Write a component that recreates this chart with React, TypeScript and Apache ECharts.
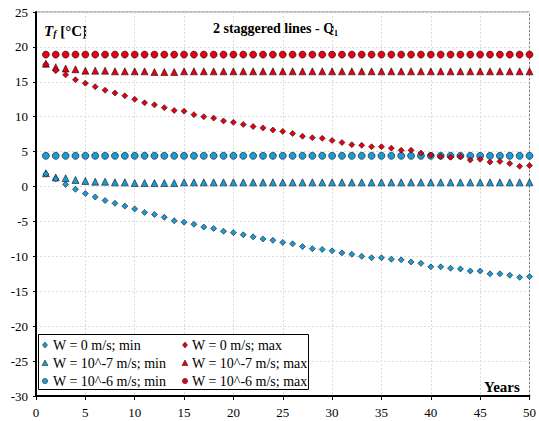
import React, { useEffect, useRef } from "react";
import * as echarts from "echarts";

const years = Array.from({ length: 50 }, (_, i) => i + 1);

const w0Min = [1.8, 1.1, 0.3, -0.4, -1.0, -1.5, -2.0, -2.4, -2.8, -3.2, -3.7, -4.0, -4.4, -4.9, -5.1, -5.4, -5.8, -6.0, -6.4, -6.6, -6.9, -7.2, -7.5, -7.7, -8.0, -8.2, -8.6, -8.9, -9.0, -9.2, -9.5, -9.7, -10.0, -10.2, -10.2, -10.4, -10.5, -10.8, -11.0, -11.5, -11.5, -11.7, -11.8, -12.1, -12.1, -12.5, -12.5, -12.7, -13.0, -12.9];
const w0Max = [17.5, 16.6, 16.0, 15.3, 14.8, 14.3, 13.8, 13.4, 13.0, 12.5, 12.0, 11.7, 11.3, 10.9, 10.8, 10.3, 10.0, 9.8, 9.4, 9.2, 8.9, 8.6, 8.4, 8.1, 7.9, 7.6, 7.2, 7.0, 6.9, 6.6, 6.3, 6.0, 5.9, 5.7, 5.7, 5.5, 5.2, 5.2, 4.8, 4.5, 4.3, 4.2, 4.3, 3.8, 3.9, 3.5, 3.6, 3.3, 2.9, 3.0];
const w7Min = [1.9, 1.3, 1.2, 0.95, 0.8, 0.7, 0.7, 0.6, 0.6, 0.5, 0.5, 0.5, 0.5, 0.5, 0.6, 0.6, 0.6, 0.6, 0.6, 0.6, 0.6, 0.6, 0.6, 0.6, 0.6, 0.6, 0.6, 0.6, 0.6, 0.6, 0.6, 0.6, 0.6, 0.6, 0.6, 0.6, 0.6, 0.6, 0.6, 0.6, 0.6, 0.6, 0.6, 0.6, 0.6, 0.6, 0.6, 0.6, 0.6, 0.6];
const w7Max = [17.6, 17.1, 16.9, 16.8, 16.6, 16.6, 16.6, 16.5, 16.5, 16.5, 16.5, 16.4, 16.4, 16.4, 16.5, 16.5, 16.5, 16.5, 16.5, 16.5, 16.5, 16.5, 16.5, 16.5, 16.5, 16.5, 16.5, 16.5, 16.5, 16.5, 16.5, 16.5, 16.5, 16.5, 16.5, 16.5, 16.5, 16.5, 16.5, 16.5, 16.5, 16.5, 16.5, 16.5, 16.5, 16.5, 16.5, 16.5, 16.5, 16.5];
const w6Min = [4.4, 4.4, 4.4, 4.4, 4.4, 4.4, 4.4, 4.4, 4.4, 4.4, 4.4, 4.4, 4.4, 4.4, 4.4, 4.4, 4.4, 4.4, 4.4, 4.4, 4.4, 4.4, 4.4, 4.4, 4.4, 4.4, 4.4, 4.4, 4.4, 4.4, 4.4, 4.4, 4.4, 4.4, 4.4, 4.4, 4.4, 4.4, 4.4, 4.4, 4.4, 4.4, 4.4, 4.4, 4.4, 4.4, 4.4, 4.4, 4.4, 4.4];
const w6Max = [18.9, 18.9, 18.9, 18.9, 18.9, 18.9, 18.9, 18.9, 18.9, 18.9, 18.9, 18.9, 18.9, 18.9, 18.9, 18.9, 18.9, 18.9, 18.9, 18.9, 18.9, 18.9, 18.9, 18.9, 18.9, 18.9, 18.9, 18.9, 18.9, 18.9, 18.9, 18.9, 18.9, 18.9, 18.9, 18.9, 18.9, 18.9, 18.9, 18.9, 18.9, 18.9, 18.9, 18.9, 18.9, 18.9, 18.9, 18.9, 18.9, 18.9];

const names = [
  "W = 0 m/s; min",
  "W = 0 m/s; max",
  "W = 10^-7 m/s; min",
  "W = 10^-7 m/s; max",
  "W = 10^-6 m/s; min",
  "W = 10^-6 m/s; max",
];
const symbols = ["diamond", "diamond", "triangle", "triangle", "circle", "circle"];

const BLUE = "#1a9ad6";
const RED = "#e60012";
const FONT = "Liberation Serif";

function legendGraphics() {
  const out: any[] = [];
  const rowY = [345, 363, 381];
  const colIcon = [45, 185];
  const colText = [53, 192];
  names.forEach((name, i) => {
    const col = i % 2;
    const row = Math.floor(i / 2);
    const cx = colIcon[col];
    const cy = rowY[row];
    const color = col === 0 ? BLUE : RED;
    const style = { fill: color, stroke: "#111", lineWidth: 0.5 };
    const sym = symbols[i];
    if (sym === "circle") {
      out.push({ type: "circle", silent: true, z: 10, shape: { cx, cy, r: 2.7 }, style });
    } else if (sym === "diamond") {
      out.push({
        type: "polygon", silent: true, z: 10,
        shape: { points: [[cx, cy - 3], [cx + 2.5, cy], [cx, cy + 3], [cx - 2.5, cy]] },
        style,
      });
    } else {
      out.push({
        type: "polygon", silent: true, z: 10,
        shape: { points: [[cx, cy - 3], [cx + 3, cy + 2.5], [cx - 3, cy + 2.5]] },
        style,
      });
    }
    out.push({
      type: "text", silent: true, z: 10, x: colText[col], y: cy,
      style: { text: name, fontFamily: FONT, fontSize: 14, fill: "#000", verticalAlign: "middle" },
    });
  });
  return out;
}

export default function App() {
  const ref = useRef<HTMLDivElement>(null);
  useEffect(() => {
    if (!ref.current) return;
    const chart = echarts.init(ref.current, null, { renderer: "svg" });
    const mk = (name: string, vals: number[], symbol: string, size: number, color: string) => ({
      name,
      type: "scatter",
      data: years.map((y, i) => [y, vals[i]]),
      symbol,
      symbolSize: size,
      itemStyle: { color, opacity: 1, borderColor: "#111", borderWidth: 0.6 },
      emphasis: { disabled: true },
    });
    const splitLine = { show: true, lineStyle: { color: "#dcdcdc", type: [2, 2], width: 1 } };
    chart.setOption({
      animation: false,
      textStyle: { fontFamily: FONT },
      grid: {
        left: 36, top: 12, right: 9, bottom: 25,
        show: true, borderColor: "#808080", borderWidth: 1,
      },
      xAxis: {
        type: "value", min: 0, max: 50, interval: 5,
        axisLine: { onZero: false, lineStyle: { color: "#000", width: 2 } },
        axisTick: { show: true, length: 4, lineStyle: { color: "#000" } },
        axisLabel: { color: "#000", fontSize: 13, fontFamily: FONT, margin: 10 },
        splitLine,
      },
      yAxis: {
        type: "value", min: -30, max: 25, interval: 5,
        axisLine: { show: true, onZero: false, lineStyle: { color: "#000", width: 2 } },
        axisTick: { show: true, length: 3, lineStyle: { color: "#000" } },
        axisLabel: { color: "#000", fontSize: 13, fontFamily: FONT, margin: 8 },
        splitLine,
      },
      graphic: [
        {
          type: "rect", left: 38, top: 334, silent: true, z: 5,
          shape: { width: 270, height: 55 },
          style: { fill: "#fff", stroke: "#000", lineWidth: 1 },
        },
        ...legendGraphics(),
        {
          type: "text", left: 213, top: 21,
          style: {
            text: "2 staggered lines - Q₁",
            fontFamily: FONT, fontWeight: "bold", fontSize: 14, fill: "#000",
          },
        },
        {
          type: "text", left: 44, top: 23,
          style: {
            text: "{t|T}{s|f}{b| [°C]}",
            rich: {
              t: { fontFamily: FONT, fontWeight: "bold", fontStyle: "italic", fontSize: 15, fill: "#000" },
              s: { fontFamily: FONT, fontWeight: "bold", fontStyle: "italic", fontSize: 10, fill: "#000", padding: [6, 0, 0, 0] },
              b: { fontFamily: FONT, fontWeight: "bold", fontSize: 15, fill: "#000" },
            },
          },
        },
        {
          type: "text", left: 484, top: 379,
          style: { text: "Years", fontFamily: FONT, fontWeight: "bold", fontSize: 15, fill: "#000" },
        },
      ],
      series: [
        mk(names[4], w6Min, "circle", 7, BLUE),
        mk(names[5], w6Max, "circle", 7, RED),
        mk(names[2], w7Min, "triangle", 7, BLUE),
        mk(names[3], w7Max, "triangle", 7, RED),
        mk(names[0], w0Min, "diamond", 6, BLUE),
        mk(names[1], w0Max, "diamond", 6, RED),
      ],
    });
    return () => chart.dispose();
  }, []);
  return <div ref={ref} style={{ position: "absolute", left: 0, top: 0, width: 539, height: 421 }} />;
}
